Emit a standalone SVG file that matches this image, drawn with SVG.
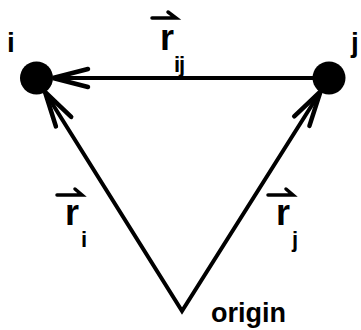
<svg xmlns="http://www.w3.org/2000/svg" width="361" height="330" viewBox="0 0 361 330">
<style>
.lbl{font-family:"Liberation Sans",Arial,sans-serif;font-weight:bold;fill:#000}
.vec{font-size:36px}
.sub{font-size:22px}
.edge{stroke:#000;stroke-width:4;fill:none;stroke-linejoin:miter}
.harp{stroke:#000;stroke-width:3.5;fill:none;stroke-linecap:round}
</style>
<defs>
<marker id="open" markerUnits="userSpaceOnUse" viewBox="-40 -14 44 28" refX="0" refY="0" markerWidth="44" markerHeight="28" orient="auto-start-reverse">
<path d="M-35,-9 L0,0 L-35,9" fill="none" stroke="#000" stroke-width="4.5" stroke-linecap="round"/>
</marker>
</defs>
<rect width="361" height="330" fill="#fff"/>
<g id="connectors">
<path id="e-ij" class="edge" d="M313,78 L53,78" marker-end="url(#open)"/>
<path id="e-ri-rj" class="edge" d="M45,92 L182,311 L320.5,91.5" marker-start="url(#open)" marker-end="url(#open)"/>
<g id="lbl-rij">
<path class="harp" d="M152,18 L176,18 L168,12"/>
<text class="lbl vec" x="160" y="50">r</text>
<text class="lbl sub" x="174" y="72" letter-spacing="-1">ij</text>
</g>
<g id="lbl-ri">
<path class="harp" d="M57,195 L82,195 L75,189"/>
<text class="lbl vec" x="65" y="225">r</text>
<text class="lbl sub" x="81" y="247">i</text>
</g>
<g id="lbl-rj">
<path class="harp" d="M268,195 L293,195 L286,189"/>
<text class="lbl vec" x="276" y="225">r</text>
<text class="lbl sub" x="292" y="247">j</text>
</g>
</g>
<g id="node-i">
<circle cx="36.5" cy="78" r="16.5" fill="#000"/>
<text class="lbl" x="7" y="52" font-size="28">i</text>
</g>
<g id="node-j">
<circle cx="329" cy="78" r="16.5" fill="#000"/>
<text class="lbl" x="351" y="52" font-size="28">j</text>
</g>
<g id="node-origin">
<text class="lbl" x="211" y="322" font-size="27">origin</text>
</g>
</svg>
